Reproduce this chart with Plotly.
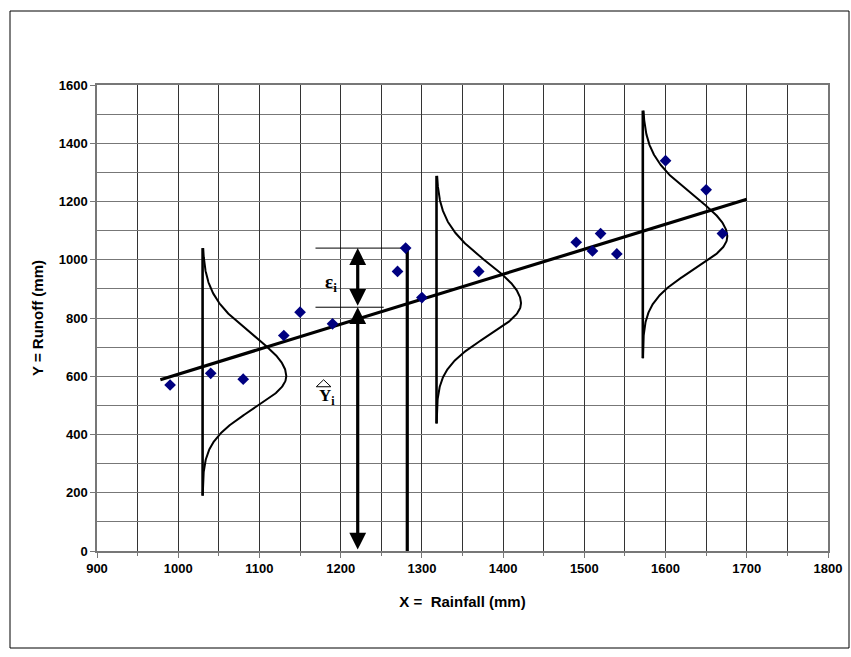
import numpy as np
import plotly.graph_objects as go

# ---------------- data ----------------
rainfall = [990, 1040, 1080, 1130, 1150, 1190, 1270, 1280, 1300, 1370,
            1490, 1510, 1520, 1540, 1600, 1650, 1670]
runoff = [570, 610, 590, 740, 820, 780, 960, 1040, 870, 960,
          1060, 1030, 1090, 1020, 1340, 1240, 1090]

fit_x = [978, 1700]
fit_y = [588, 1208]

# normal error curves drawn around the regression line
curve_base_x = [1030, 1318, 1572]
curve_low_y = [190, 438, 662]
curve_high_y = [1040, 1288, 1512]
curve_peak_y = [600, 850, 1079]
curve_peak_dx = [103, 104, 104]
curve_sigma_up = [140, 140, 140]
curve_sigma_down = [112, 112, 112]

# illustration of Y-hat and epsilon at one observation
obs_x = 1282
obs_y = 1040
arrow_x = 1221
yhat_y = 837
guide_x0 = 1169
guide_top_x1 = 1281
guide_bot_x1 = 1253
eps_label = (1188, 919)
yhat_label = (1180, 528)
hat_tri_x = [1170, 1179, 1188]
hat_tri_y = [564, 588, 564]

x_ticks = list(range(900, 1801, 100))
y_ticks = list(range(0, 1601, 200))

# ---------------- figure ----------------
fig = go.Figure()

# normal curves
for bx, lo, hi, pk, amp, su, sd in zip(curve_base_x, curve_low_y, curve_high_y,
                                       curve_peak_y, curve_peak_dx,
                                       curve_sigma_up, curve_sigma_down):
    yy = np.linspace(lo, hi, 300)
    s = np.where(yy >= pk, su, sd)
    xx = bx + amp * np.exp(-0.5 * ((yy - pk) / s) ** 2)
    fig.add_trace(go.Scatter(x=[bx, bx], y=[lo, hi], mode="lines",
                             line=dict(color="black", width=2.6),
                             hoverinfo="skip", showlegend=False))
    fig.add_trace(go.Scatter(x=xx, y=yy, mode="lines",
                             line=dict(color="black", width=2),
                             hoverinfo="skip", showlegend=False))

# observation vertical line
fig.add_trace(go.Scatter(x=[obs_x, obs_x], y=[0, obs_y], mode="lines",
                         line=dict(color="black", width=3.2),
                         hoverinfo="skip", showlegend=False))
# guide lines
fig.add_trace(go.Scatter(x=[guide_x0, guide_top_x1], y=[obs_y, obs_y], mode="lines",
                         line=dict(color="black", width=1),
                         hoverinfo="skip", showlegend=False))
fig.add_trace(go.Scatter(x=[guide_x0, guide_bot_x1], y=[yhat_y, yhat_y], mode="lines",
                         line=dict(color="black", width=1),
                         hoverinfo="skip", showlegend=False))

# regression line
fig.add_trace(go.Scatter(x=fit_x, y=fit_y, mode="lines",
                         line=dict(color="black", width=3.2),
                         hoverinfo="skip", showlegend=False))

# data points
fig.add_trace(go.Scatter(x=rainfall, y=runoff, mode="markers",
                         marker=dict(symbol="diamond", size=9, color="#000080",
                                     line=dict(width=0)),
                         showlegend=False))

# hat triangle
fig.add_trace(go.Scatter(x=hat_tri_x + [hat_tri_x[0]], y=hat_tri_y + [hat_tri_y[0]],
                         mode="lines", line=dict(color="black", width=1),
                         hoverinfo="skip", showlegend=False))

# double-headed arrows
for (y0, y1) in [(0, yhat_y), (yhat_y, obs_y)]:
    fig.add_annotation(x=arrow_x, y=y1, ax=arrow_x, ay=y0,
                       xref="x", yref="y", axref="x", ayref="y",
                       text="", showarrow=True, arrowside="end+start",
                       arrowhead=2, startarrowhead=2, arrowsize=1.05,
                       startarrowsize=1.05, arrowwidth=3.2, arrowcolor="black",
                       standoff=0, startstandoff=0)

fig.add_annotation(x=eps_label[0], y=eps_label[1], xref="x", yref="y",
                   text="ε<sub>i</sub>", showarrow=False,
                   font=dict(family="Liberation Serif, Times New Roman", size=19,
                             color="black", weight="bold"))
fig.add_annotation(x=yhat_label[0], y=yhat_label[1], xref="x", yref="y",
                   text="Y<sub>i</sub>", showarrow=False, xanchor="left",
                   xshift=-7,
                   font=dict(family="Liberation Serif, Times New Roman", size=17,
                             color="black", weight="bold"))

# outer frame
fig.add_shape(type="rect", xref="paper", yref="paper",
              x0=(10 - 97) / 731, x1=(849 - 97) / 731,
              y0=(551 - 648) / 466, y1=(551 - 11) / 466,
              line=dict(color="black", width=1), fillcolor="rgba(0,0,0,0)",
              layer="below")

tickfont = dict(family="Liberation Sans, Arial", size=13, color="black", weight="bold")
titlefont = dict(family="Liberation Sans, Arial", size=15, color="black", weight="bold")

fig.update_layout(
    width=851, height=657,
    margin=dict(l=97, r=23, t=85, b=106),
    paper_bgcolor="white", plot_bgcolor="white",
    showlegend=False,
    xaxis=dict(range=[900, 1800], tickvals=x_ticks, ticktext=[str(v) for v in x_ticks],
               ticks="outside", ticklen=5, tickcolor="#777", tickfont=tickfont,
               title=dict(text="X =  Rainfall (mm)", font=titlefont, standoff=21),
               showgrid=True, gridcolor="#333", gridwidth=1,
               minor=dict(tickvals=list(range(950, 1800, 100)), showgrid=True,
                          gridcolor="#333", gridwidth=1, ticks="outside",
                          ticklen=3, tickcolor="#777"),
               showline=True, linecolor="#777", linewidth=1.5, mirror=True,
               zeroline=False, fixedrange=True, automargin=False),
    yaxis=dict(range=[0, 1600], tickvals=y_ticks, ticktext=[str(v) for v in y_ticks],
               ticks="outside", ticklen=5, tickcolor="#777", tickfont=tickfont,
               title=dict(text="Y = Runoff (mm)", font=titlefont, standoff=11),
               showgrid=True, gridcolor="#777", gridwidth=1.4,
               minor=dict(tickvals=list(range(100, 1600, 200)), showgrid=True,
                          gridcolor="#777", gridwidth=1.4),
               showline=True, linecolor="#777", linewidth=1.5, mirror=True,
               zeroline=False, fixedrange=True, automargin=False),
)

fig.write_html("out.html")
